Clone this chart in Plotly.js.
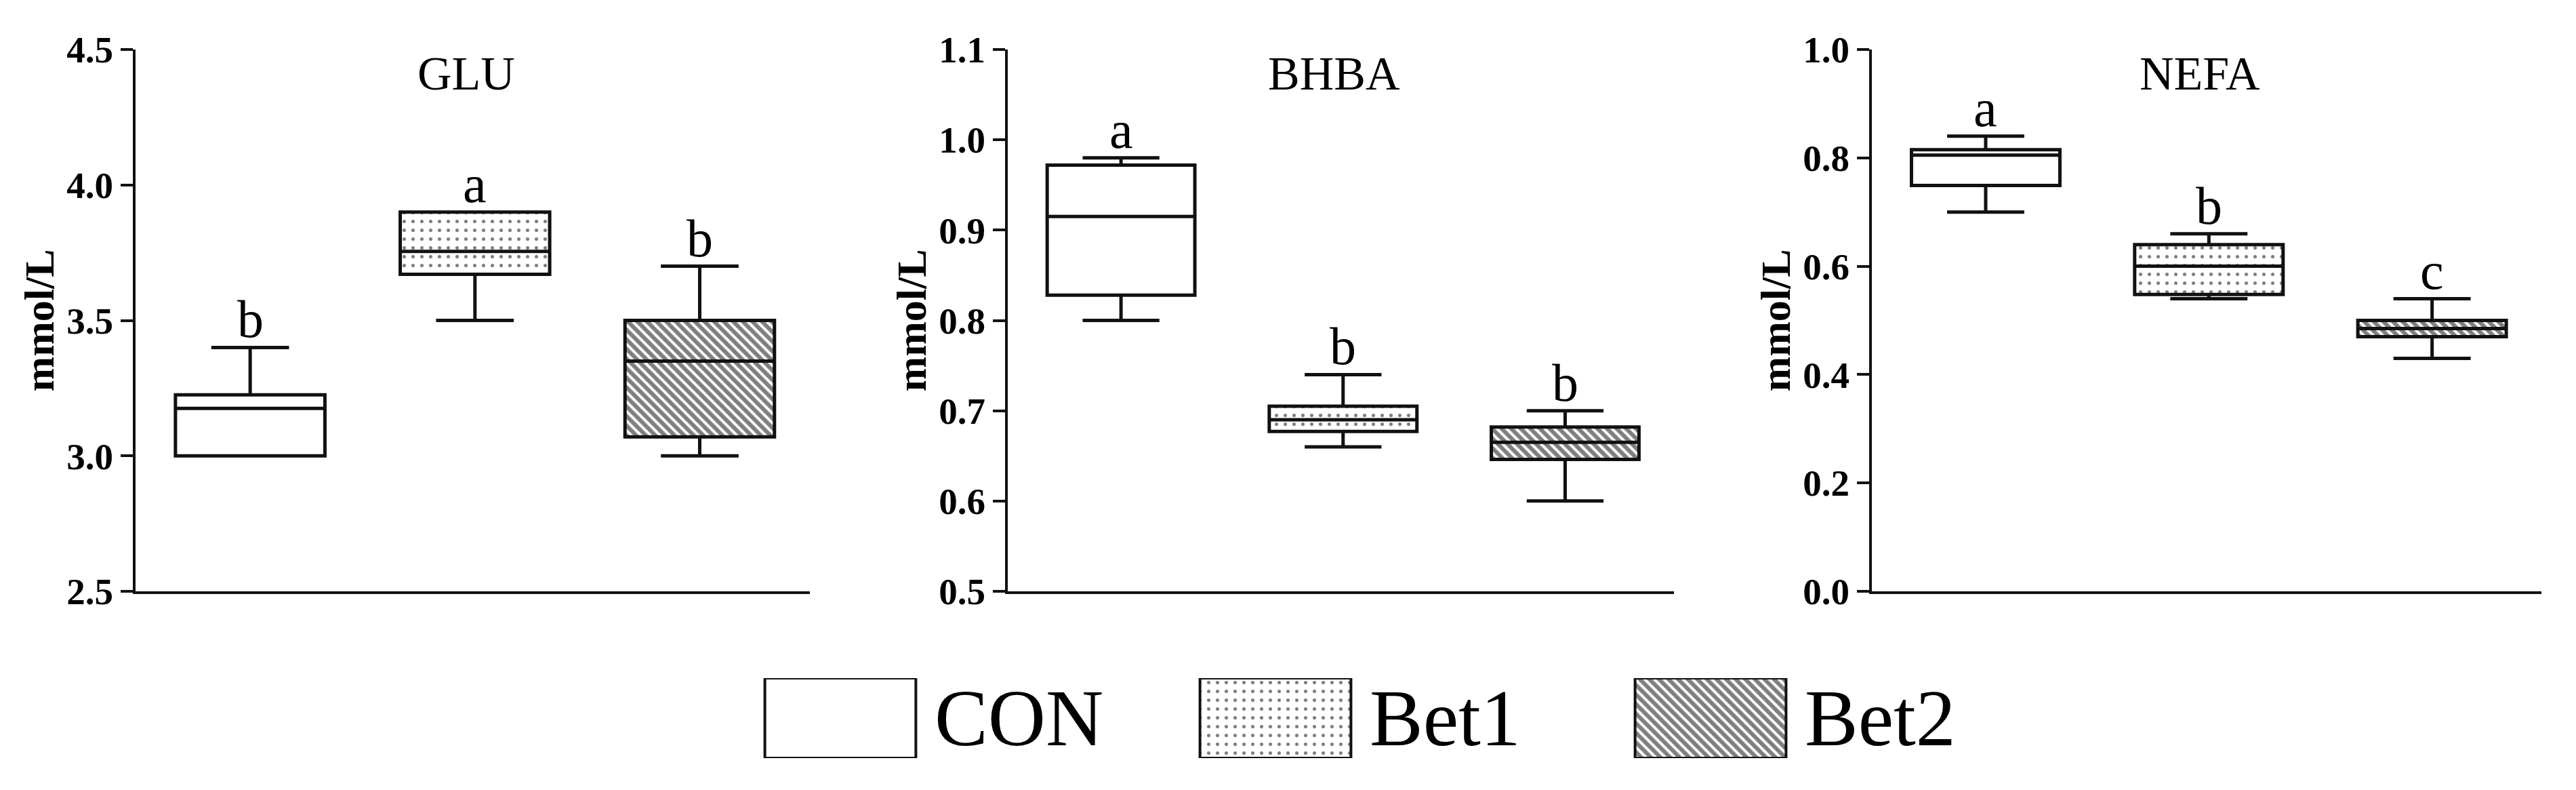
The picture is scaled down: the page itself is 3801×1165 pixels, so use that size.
<!DOCTYPE html>
<html>
<head>
<meta charset="utf-8">
<script src="https://cdn.plot.ly/plotly-3.0.1.min.js"></script>
<style>html,body{margin:0;padding:0;background:#fff;}#chart{width:3801px;height:1165px;}</style>
</head>
<body>
<div id="chart"></div>
<script>
// ---- data ----
var groups = ['CON', 'Bet1', 'Bet2'];
var panelTitles = ['GLU', 'BHBA', 'NEFA'];
var yTitle = 'mmol/L';

var gluMin = [3.00, 3.50, 3.00];
var gluQ1  = [3.00, 3.67, 3.07];
var gluMed = [3.175, 3.755, 3.35];
var gluQ3  = [3.225, 3.90, 3.50];
var gluMax = [3.40, 3.90, 3.70];
var gluLetters = ['b', 'a', 'b'];

var bhbaMin = [0.80, 0.66, 0.60];
var bhbaQ1  = [0.828, 0.677, 0.646];
var bhbaMed = [0.915, 0.690, 0.665];
var bhbaQ3  = [0.972, 0.705, 0.682];
var bhbaMax = [0.98, 0.74, 0.70];
var bhbaLetters = ['a', 'b', 'b'];

var nefaMin = [0.70, 0.54, 0.43];
var nefaQ1  = [0.749, 0.548, 0.470];
var nefaMed = [0.805, 0.600, 0.485];
var nefaQ3  = [0.815, 0.640, 0.500];
var nefaMax = [0.84, 0.66, 0.54];
var nefaLetters = ['a', 'b', 'c'];

var yRanges = [[2.5, 4.5], [0.5, 1.1], [0.0, 1.0]];
var yDticks = [0.5, 0.1, 0.2];

// ---- styles ----
var FONT = 'Liberation Serif, Times New Roman, serif';
var INK = '#111';
var patShapes = ['', '.', '\\'];
var patSizes = [10, 13, 10];
var patSolid = [0.1, 0.12, 0.6];
var BOXW = 0.665;

var panels = [
  {min: gluMin, q1: gluQ1, med: gluMed, q3: gluQ3, max: gluMax, letters: gluLetters},
  {min: bhbaMin, q1: bhbaQ1, med: bhbaMed, q3: bhbaQ3, max: bhbaMax, letters: bhbaLetters},
  {min: nefaMin, q1: nefaQ1, med: nefaMed, q3: nefaQ3, max: nefaMax, letters: nefaLetters}
];

var xDomains = [[200/3801, 1195/3801], [1487/3801, 2470/3801], [2762/3801, 3750/3801]];
var yDomain = [1 - 872/1165, 1 - 73/1165];

var traces = [];
var annotations = [];
var layout = {
  width: 3801, height: 1165,
  margin: {l: 0, r: 0, t: 0, b: 0},
  paper_bgcolor: '#fff', plot_bgcolor: 'rgba(0,0,0,0)',
  showlegend: false,
  barmode: 'overlay', boxmode: 'overlay',
  font: {family: FONT, color: INK}
};

panels.forEach(function (p, i) {
  var sx = i === 0 ? '' : String(i + 1);
  var xa = 'x' + sx, ya = 'y' + sx;
  traces.push({
    type: 'bar', x: groups, base: p.q1,
    y: p.q3.map(function (v, k) { return v - p.q1[k]; }),
    width: BOXW, xaxis: xa, yaxis: ya, hoverinfo: 'skip',
    marker: {color: '#fff', line: {width: 0},
      pattern: {shape: patShapes, size: patSizes, solidity: patSolid, fgcolor: '#000', bgcolor: '#fff', fillmode: 'overlay'}}
  });
  traces.push({
    type: 'box', x: groups, q1: p.q1, median: p.med, q3: p.q3,
    lowerfence: p.min, upperfence: p.max,
    width: BOXW, whiskerwidth: 0.52, boxpoints: false,
    fillcolor: 'rgba(0,0,0,0)', line: {color: INK, width: 5},
    xaxis: xa, yaxis: ya, hoverinfo: 'skip'
  });
  layout['xaxis' + sx] = {
    domain: xDomains[i], anchor: ya, type: 'category',
    range: [-0.51, 2.49], showline: true, linecolor: INK, linewidth: 4,
    showticklabels: false, ticks: '', showgrid: false, zeroline: false, fixedrange: true
  };
  layout['yaxis' + sx] = {
    domain: yDomain, anchor: xa, range: yRanges[i], dtick: yDticks[i], tick0: 0,
    tickformat: '.1f', showline: true, linecolor: INK, linewidth: 4,
    ticks: 'outside', ticklen: 18, tickwidth: 4, tickcolor: INK,
    tickfont: {family: FONT, size: 55, color: '#000', weight: 'bold'},
    showgrid: false, zeroline: false, fixedrange: true
  };
  // y-axis title
  annotations.push({
    xref: xa + ' domain', yref: ya + ' domain', x: 0, y: 0.5, xshift: -142,
    xanchor: 'center', yanchor: 'middle', textangle: -90, showarrow: false,
    text: '<b>' + yTitle + '</b>', font: {family: FONT, size: 62, color: '#000'}
  });
  // panel title
  annotations.push({
    xref: xa + ' domain', yref: 'paper', x: 0.49, y: 1 - 68/1165,
    xanchor: 'center', yanchor: 'top', showarrow: false,
    text: panelTitles[i], font: {family: FONT, size: 70, color: '#000'}
  });
  p.letters.forEach(function (t, k) {
    annotations.push({
      xref: xa, yref: ya, x: groups[k], y: p.max[k],
      xanchor: 'center', yanchor: 'bottom', yshift: -4, showarrow: false,
      text: t, font: {family: FONT, size: 78, color: '#000'}
    });
  });
});

// ---- custom legend (large patterned swatches) ----
var LEGW = 0.347;
traces.push({
  type: 'bar', x: groups, y: groups.map(function () { return 1; }), base: 0,
  width: LEGW, xaxis: 'x4', yaxis: 'y4', hoverinfo: 'skip',
  marker: {color: '#fff', line: {width: 4, color: INK},
    pattern: {shape: patShapes, size: patSizes, solidity: patSolid, fgcolor: '#000', bgcolor: '#fff', fillmode: 'overlay'}}
});
layout.xaxis4 = {domain: [919/3801, 2845/3801], anchor: 'y4', type: 'category', range: [-0.5, 2.5],
  visible: false, fixedrange: true};
layout.yaxis4 = {domain: [1 - 1118/1165, 1 - 1000/1165], anchor: 'x4', range: [0, 1],
  visible: false, fixedrange: true};
groups.forEach(function (g, k) {
  annotations.push({
    xref: 'x4', yref: 'y4', x: k + LEGW / 2, y: 0.5, xshift: 26,
    xanchor: 'left', yanchor: 'middle', showarrow: false,
    text: g, font: {family: FONT, size: 118, color: '#000'}
  });
});

layout.annotations = annotations;
Plotly.newPlot('chart', traces, layout, {staticPlot: true, displayModeBar: false});
</script>
</body>
</html>
